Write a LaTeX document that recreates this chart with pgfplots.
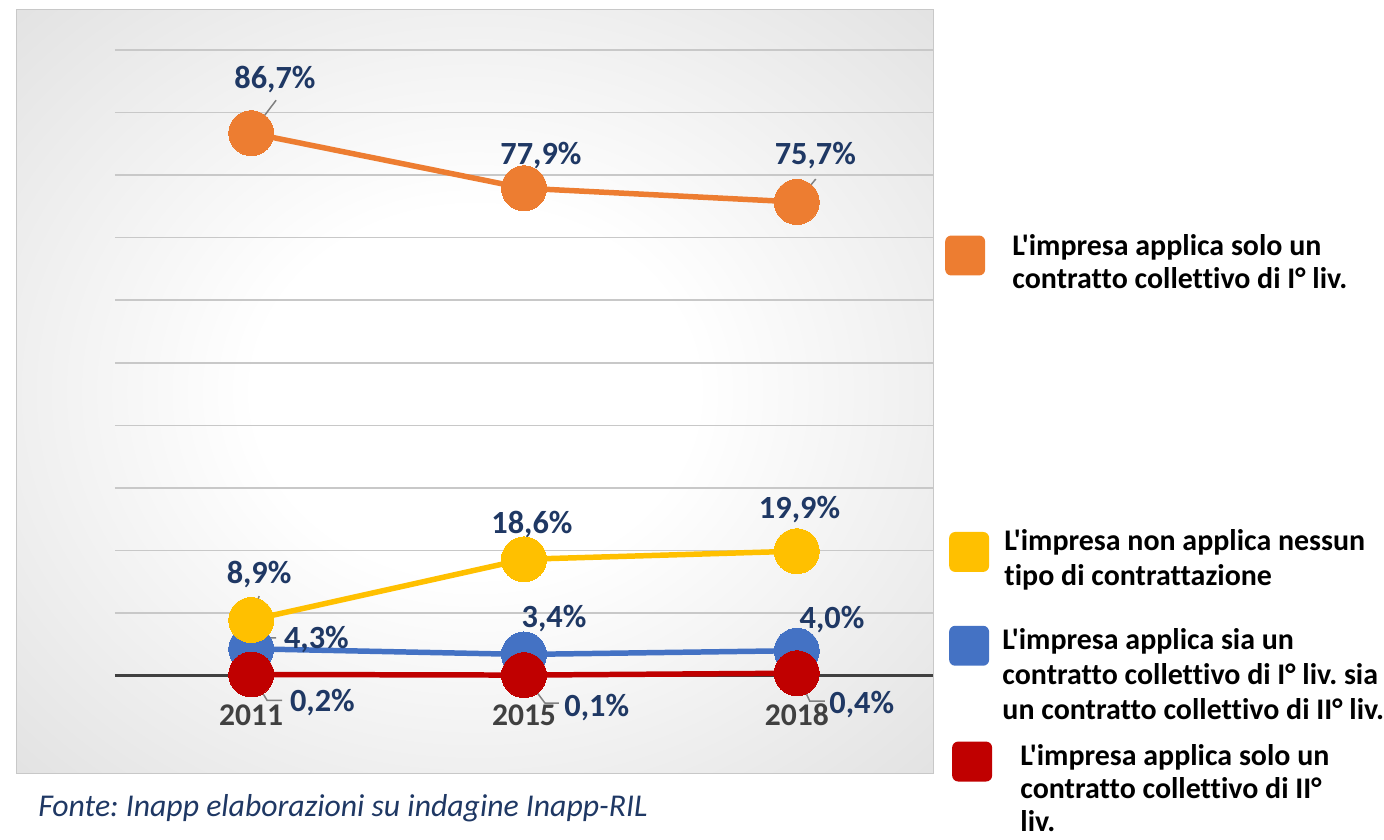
\documentclass[border=0pt]{standalone}
\usepackage{pgfplots}
\pgfplotsset{compat=1.18}
\usepackage{fontspec}
\setmainfont{Carlito}[Ligatures={TeXOff,CommonOff}]
\frenchspacing
\definecolor{corange}{HTML}{ED7D31}
\definecolor{cyellow}{HTML}{FFC000}
\definecolor{cblue}{HTML}{4472C4}
\definecolor{cred}{HTML}{C00000}
\definecolor{labc}{HTML}{1F3864}
\definecolor{catc}{HTML}{404040}
\definecolor{gridc}{HTML}{C8C8C8}
\definecolor{zeroc}{HTML}{404040}
\definecolor{leadc}{HTML}{808080}
\definecolor{bgouter}{HTML}{BBBBBB}
\pgfdeclareradialshading{bgshade}{\pgfpoint{0bp}{0bp}}{color(0bp)=(white); color(12bp)=(white); color(68bp)=(bgouter)}
\tikzset{
  lab/.style={font=\fontsize{16.2}{19}\selectfont\bfseries, color=labc, text height=10.2pt, text depth=0pt, inner sep=0pt, anchor=center},
  lead/.style={color=leadc, line width=0.75pt},
  leg/.style={anchor=base west, align=left, inner sep=0pt},
}
\begin{document}
\begin{tikzpicture}
\begin{scope}[x=0.5pt,y=-0.5pt]
\useasboundingbox (0,0) rectangle (1384,841);
\shade[shading=bgshade, draw=gridc, line width=0.5pt] (17,10) rectangle (935,775);
\end{scope}
\begin{axis}[
  at={(57.5pt,-338.5pt)}, anchor=south west,
  scale only axis, width=410pt, height=313.5pt,
  xmin=-0.5, xmax=2.5, ymin=0, ymax=100,
  axis line style={draw=none},
  xtick={0,1,2}, xticklabels={2011,2015,2018},
  ytick={10,20,...,100}, yticklabels={},
  ymajorgrids, major tick length=0pt,
  grid style={color=gridc, line width=0.75pt},
  extra y ticks={0}, extra y tick labels={},
  extra y tick style={grid style={color=zeroc, line width=1.75pt}},
  clip=false,
  xticklabel style={font=\fontsize{15.8}{18}\selectfont\bfseries, color=catc, anchor=center, yshift=-20pt, text height=10pt, text depth=0pt, inner sep=0pt},
  every axis plot/.append style={line width=2.75pt, mark=*, mark size=11.25pt},
]
\addplot[color=cblue, mark options={fill=cblue, draw=cblue, line width=0pt}] coordinates {(0,4.3) (1,3.4) (2,4.0)};
\addplot[color=corange, mark options={fill=corange, draw=corange, line width=0pt}] coordinates {(0,86.7) (1,77.9) (2,75.7)};
\addplot[color=cyellow, mark options={fill=cyellow, draw=cyellow, line width=0pt}] coordinates {(0,8.9) (1,18.6) (2,19.9)};
\addplot[color=cred, mark options={fill=cred, draw=cred, line width=0pt}] coordinates {(0,0.2) (1,0.1) (2,0.4)};
% leader lines
\draw[lead] (axis cs:0,86.7) -- ++(12.5pt,16.5pt);
\draw[lead] (axis cs:1,77.9) -- ++(9.5pt,6pt);
\draw[lead] (axis cs:2,75.7) -- ++(9.5pt,11.5pt);
\draw[lead] (axis cs:0,8.9) -- ++(4pt,12pt);
\draw[lead] (axis cs:1,18.6) -- ++(4pt,6.5pt);
\draw[lead] (axis cs:2,19.9) -- ++(1.5pt,10pt);
\draw[lead] (axis cs:0,4.3) -- ++(9.5pt,5.5pt) -- ++(3pt,0pt);
\draw[lead] (axis cs:0,0.2) -- ++(8pt,-13pt) -- ++(7.5pt,0pt);
\draw[lead] (axis cs:1,0.1) -- ++(10.5pt,-14pt) -- ++(7pt,0pt);
\draw[lead] (axis cs:2,0.4) -- ++(6.5pt,-14pt) -- ++(7.5pt,0pt);
% data labels
\node[lab] at (axis cs:0.087,95.5) {86,7\%};
\node[lab] at (axis cs:1.062,83.3) {77,9\%};
\node[lab] at (axis cs:2.068,83.3) {75,7\%};
\node[lab] at (axis cs:0.029,16.3) {8,9\%};
\node[lab] at (axis cs:1.029,24.4) {18,6\%};
\node[lab] at (axis cs:2.010,26.8) {19,9\%};
\node[lab] at (axis cs:0.239,5.9) {4,3\%};
\node[lab] at (axis cs:1.110,9.4) {3,4\%};
\node[lab] at (axis cs:2.129,9.25) {4,0\%};
\node[lab] at (axis cs:0.261,-4.15) {0,2\%};
\node[lab] at (axis cs:1.267,-4.94) {0,1\%};
\node[lab] at (axis cs:2.238,-4.47) {0,4\%};
\end{axis}
\begin{scope}[x=0.5pt,y=-0.5pt]
\fill[corange, rounded corners=3pt] (947,236) rectangle (987,276);
\fill[cyellow, rounded corners=3pt] (951,533) rectangle (991,573);
\fill[cblue, rounded corners=3pt] (951,627) rectangle (991,667);
\fill[cred, rounded corners=3pt] (954,743) rectangle (994,783);
\node[leg, font=\fontsize{15}{16.5}\selectfont\bfseries] at (1014,288.7) {L'impresa applica solo un\\contratto collettivo di I° liv.};
\node[leg, font=\fontsize{15}{17.5}\selectfont\bfseries] at (1006,587) {L'impresa non applica nessun\\tipo di contrattazione};
\node[leg, font=\fontsize{15}{17.75}\selectfont\bfseries] at (1004,721.3) {L'impresa applica sia un\\contratto collettivo di I° liv. sia\\un contratto collettivo di II° liv.};
\node[leg, font=\fontsize{15}{16.75}\selectfont\bfseries] at (1022,833.5) {L'impresa applica solo un\\contratto collettivo di II°\\liv.};
\node[anchor=base west, inner sep=0pt, font=\fontsize{15.9}{18}\selectfont\itshape, color=labc] at (38,818) {Fonte: Inapp elaborazioni su indagine Inapp-RIL};
\end{scope}
\end{tikzpicture}
\end{document}
